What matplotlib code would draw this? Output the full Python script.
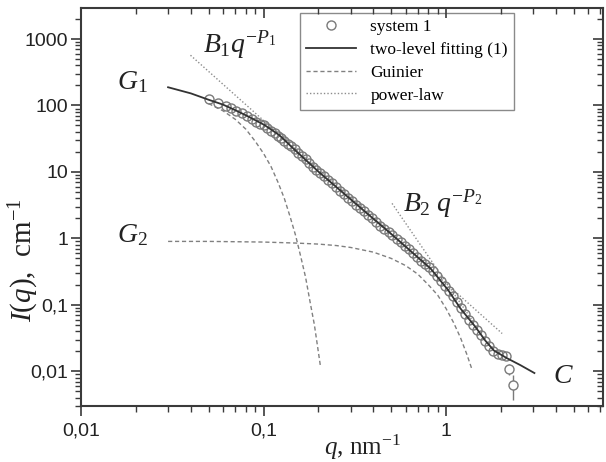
import matplotlib
matplotlib.use('Agg')
import matplotlib.pyplot as plt
from matplotlib.ticker import FixedLocator, FixedFormatter, LogLocator, NullFormatter
from matplotlib.lines import Line2D

# ---------------- data ----------------
q_data = [0.050, 0.056, 0.062, 0.066, 0.071, 0.076, 0.081, 0.086, 0.091, 0.096,
          0.100, 0.105, 0.110, 0.115, 0.120, 0.125, 0.130, 0.136, 0.142, 0.148,
          0.155, 0.162, 0.170, 0.178, 0.186, 0.195, 0.205, 0.215, 0.226, 0.238,
          0.250, 0.263, 0.277, 0.291, 0.306, 0.322, 0.339, 0.357, 0.375, 0.395,
          0.415, 0.437, 0.460, 0.484, 0.509, 0.536, 0.564, 0.593, 0.624, 0.657,
          0.691, 0.727, 0.765, 0.805, 0.847, 0.891, 0.938, 0.987, 1.04, 1.09,
          1.15, 1.21, 1.27, 1.34, 1.41, 1.48, 1.56, 1.64, 1.73, 1.82,
          1.92, 2.02, 2.12]
I_data = [124, 110, 99, 92, 83, 76, 69, 63, 57, 53,
          50, 46, 41, 38, 35, 32, 29.5, 26.5, 24.5, 22,
          19.5, 17.5, 15.5, 13.5, 12.0, 10.8, 9.5, 8.6, 7.6, 6.7,
          5.9, 5.2, 4.6, 4.1, 3.6, 3.2, 2.85, 2.55, 2.25, 2.0,
          1.75, 1.55, 1.38, 1.24, 1.12, 0.99, 0.87, 0.76, 0.68, 0.60,
          0.53, 0.46, 0.41, 0.375, 0.32, 0.27, 0.225, 0.19, 0.16, 0.135,
          0.11, 0.088, 0.073, 0.060, 0.050, 0.042, 0.035, 0.029, 0.024, 0.020,
          0.0185, 0.0178, 0.0168]

# last two points carry visible error bars
q_err = [2.20, 2.34]
I_err = [0.0108, 0.0062]
I_err_lo = [0.0020, 0.0025]
I_err_hi = [0.0020, 0.0025]

q_fit = [0.030, 0.040, 0.050, 0.060, 0.070, 0.081, 0.101, 0.122, 0.151, 0.202,
         0.270, 0.362, 0.495, 0.640, 0.823, 1.03, 1.20, 1.45, 1.64, 1.83,
         2.15, 2.55, 3.05]
I_fit = [188, 152, 122, 103, 85, 70, 51, 35.8, 20.5, 9.84,
         4.97, 2.49, 1.20, 0.645, 0.352, 0.165, 0.088, 0.0464, 0.0290, 0.0205,
         0.0158, 0.0124, 0.0094]

q_guin1 = [0.05, 0.06, 0.07, 0.08, 0.09, 0.10, 0.11, 0.12, 0.13, 0.14,
           0.15, 0.16, 0.17, 0.18, 0.19, 0.205]
I_guin1 = [107, 83, 62, 44, 29, 19, 12, 7.0, 4.0, 2.1,
           1.1, 0.53, 0.26, 0.11, 0.05, 0.012]

q_guin2 = [0.03, 0.05, 0.1, 0.15, 0.2, 0.25, 0.3, 0.4, 0.5, 0.6,
           0.7, 0.8, 0.9, 1.0, 1.1, 1.2, 1.3, 1.39]
I_guin2 = [0.90, 0.90, 0.88, 0.85, 0.82, 0.78, 0.73, 0.62, 0.50, 0.39,
           0.29, 0.20, 0.14, 0.088, 0.054, 0.032, 0.018, 0.0105]

q_pow1 = [0.0398, 2.03]
I_pow1 = [570, 0.037]
q_pow2 = [0.506, 1.40]
I_pow2 = [3.36, 0.057]

x_ticks = [0.01, 0.1, 1]
x_tick_labels = ['0,01', '0,1', '1']
y_ticks = [0.01, 0.1, 1, 10, 100, 1000]
y_tick_labels = ['0,01', '0,1', '1', '10', '100', '1000']
legend_labels = ['system 1', 'two-level fitting (1)', 'Guinier', 'power-law']

# ---------------- style ----------------
plt.rcParams['mathtext.fontset'] = 'custom'
plt.rcParams['mathtext.rm'] = 'Liberation Serif'
plt.rcParams['mathtext.it'] = 'Liberation Serif:italic'
plt.rcParams['mathtext.bf'] = 'Liberation Serif:bold'
plt.rcParams['font.family'] = 'Liberation Serif'

fig = plt.figure(figsize=(6.06, 4.62), dpi=100)
ax = fig.add_axes([81/606, 1-406/462, (602.5-81)/606, (406-8.3)/462])

mark_col = '#7a7a7a'
fit_col = '#333333'
dash_col = '#808080'
dot_col = '#8c8c8c'
spine_col = '#3a3a3a'

ax.plot(q_guin1, I_guin1, color=dash_col, lw=1.0, ls=(0, (3, 2)), zorder=2)
ax.plot(q_guin2, I_guin2, color=dash_col, lw=1.0, ls=(0, (3, 2)), zorder=2)
ax.plot(q_pow1, I_pow1, color=dot_col, lw=1.0, ls=(0, (1, 1.5)), zorder=2)
ax.plot(q_pow2, I_pow2, color=dot_col, lw=1.0, ls=(0, (1, 1.5)), zorder=2)
ax.errorbar(q_err, I_err, yerr=[I_err_lo, I_err_hi], fmt='o', ms=6.5, mfc='white',
            mec=mark_col, mew=1.0, ecolor=mark_col, elinewidth=1.0, capsize=0, zorder=3)
ax.plot(q_data, I_data, 'o', ms=6.5, mfc='none', mec=mark_col, mew=1.0, zorder=3)
ax.plot(q_fit, I_fit, color=fit_col, lw=1.3, zorder=4)

ax.set_xscale('log')
ax.set_yscale('log')
ax.set_xlim(0.01, 7.2)
ax.set_ylim(0.003, 2900)

ax.xaxis.set_major_locator(FixedLocator(x_ticks))
ax.xaxis.set_major_formatter(FixedFormatter(x_tick_labels))
ax.yaxis.set_major_locator(FixedLocator(y_ticks))
ax.yaxis.set_major_formatter(FixedFormatter(y_tick_labels))
for a in (ax.xaxis, ax.yaxis):
    a.set_minor_locator(LogLocator(base=10, subs=range(2, 10), numticks=50))
    a.set_minor_formatter(NullFormatter())

ax.tick_params(which='both', direction='out', top=False, right=False, color=spine_col)
ax.tick_params(which='major', length=7, width=1.2)
ax.tick_params(which='minor', length=4, width=1.0)
ax.tick_params(axis='x', pad=5)
ax.tick_params(axis='y', pad=2)
for lab in ax.get_xticklabels() + ax.get_yticklabels():
    lab.set_fontfamily('Liberation Sans')
    lab.set_fontsize(14)
    lab.set_color('#222222')

for s in ax.spines.values():
    s.set_linewidth(1.5)
    s.set_color(spine_col)

# mirrored inward ticks on top/right
axt = ax.twiny()
axt.set_xscale('log')
axt.set_xlim(ax.get_xlim())
axt.xaxis.set_major_locator(FixedLocator(x_ticks))
axt.xaxis.set_minor_locator(LogLocator(base=10, subs=range(2, 10), numticks=50))
axt.xaxis.set_minor_formatter(NullFormatter())
axt.tick_params(which='both', direction='in', labeltop=False, color=spine_col)
axt.tick_params(which='major', length=7, width=1.2)
axt.tick_params(which='minor', length=4, width=1.0)
axr = ax.twinx()
axr.set_yscale('log')
axr.set_ylim(ax.get_ylim())
axr.yaxis.set_major_locator(FixedLocator(y_ticks))
axr.yaxis.set_minor_locator(LogLocator(base=10, subs=range(2, 10), numticks=50))
axr.yaxis.set_minor_formatter(NullFormatter())
axr.tick_params(which='both', direction='in', labelright=False, color=spine_col)
axr.tick_params(which='major', length=7, width=1.2)
axr.tick_params(which='minor', length=4, width=1.0)
for a in (axt, axr):
    for s in a.spines.values():
        s.set_visible(False)

ax.set_xlabel(r'$q$, nm$^{-1}$', fontsize=18, color='#222222')
ax.xaxis.set_label_coords(0.539, -0.066)
ax.set_ylabel(r'$I$($q$),  cm$^{-1}$', fontsize=21, color='#222222')
ax.yaxis.set_label_coords(-0.077, 0.367)

# annotations
ann_kw = dict(fontsize=20, color='#222222', ha='left', va='baseline')
ax.text(0.01576, 176, r'$G_1$', **ann_kw)
ax.text(0.01576, 0.88, r'$G_2$', **ann_kw)
ax.text(0.0467, 632, r'$B_1q^{-P_1}$', **ann_kw)
ax.text(0.584, 2.49, r'$B_2\ q^{-P_2}$', **ann_kw)
ax.text(3.88, 0.00667, r'$C$', **ann_kw)

handles = [Line2D([], [], ls='none', marker='o', ms=6.5, mfc='none', mec=mark_col, mew=1.0),
           Line2D([], [], color=fit_col, lw=1.3),
           Line2D([], [], color=dash_col, lw=1.0, ls=(0, (3, 2))),
           Line2D([], [], color=dot_col, lw=1.0, ls=(0, (1, 1.5)))]
leg = ax.legend(handles, legend_labels, loc='upper left', bbox_to_anchor=(0.42, 0.988),
                borderaxespad=0, fancybox=False, framealpha=1, edgecolor='#8a8a8a',
                prop={'family': 'Liberation Serif', 'size': 12.5},
                handlelength=2.9, handletextpad=0.8, labelspacing=0.38, borderpad=0.35)
leg.get_frame().set_linewidth(1.0)
leg.set_zorder(10)

fig.savefig('out.png', dpi=100)
